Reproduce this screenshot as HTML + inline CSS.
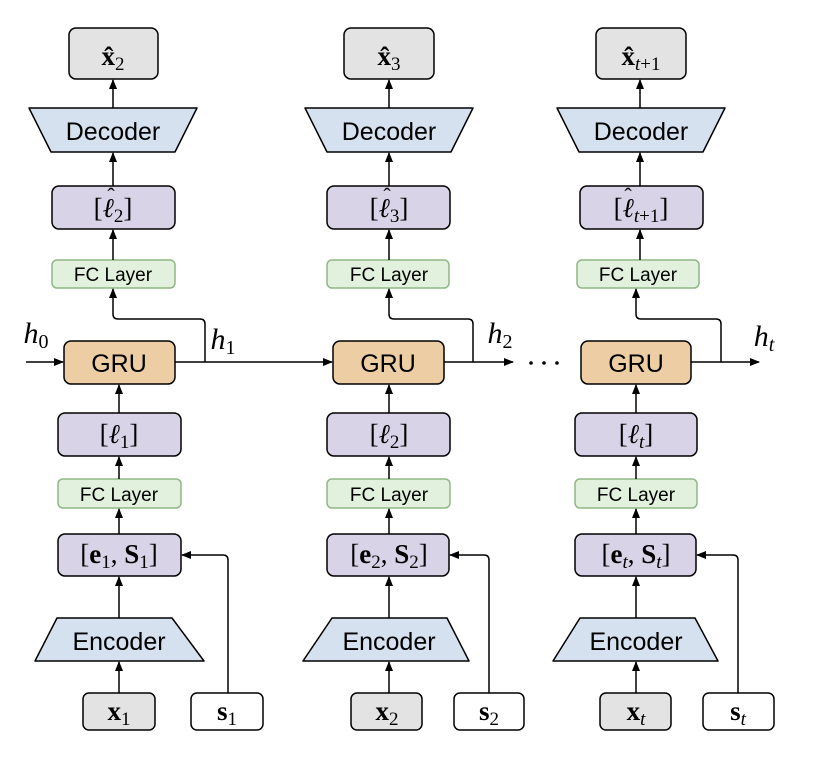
<!DOCTYPE html>
<html><head><meta charset="utf-8"><style>
body{margin:0;background:#fff}
svg{display:block}
.s{font-family:"Liberation Sans",sans-serif}
.m{font-family:"Liberation Serif",serif}
</style></head><body>
<svg width="831" height="768" viewBox="0 0 831 768" xmlns="http://www.w3.org/2000/svg">
<defs>
<marker id="a" markerWidth="10" markerHeight="10" refX="9" refY="4" orient="auto" markerUnits="userSpaceOnUse">
<path d="M0,0 L10,4 L0,8 Z" fill="#000"/></marker>
</defs>
<g stroke="#000" stroke-width="1.5" fill="none">
<rect x="69" y="28" width="89" height="51" rx="7" fill="#e3e3e3"/>
<path d="M29,108 L197,108 L175,152 L51,152 Z" fill="#d5e1ee" stroke-linejoin="round"/>
<rect x="52" y="186" width="123" height="43" rx="7" fill="#d8d3e6"/>
<rect x="52" y="260" width="123" height="28" rx="5" fill="#e2f1dd" stroke="#8fb884"/>
<rect x="344" y="28" width="90" height="51" rx="7" fill="#e3e3e3"/>
<path d="M305,108 L473,108 L451,152 L327,152 Z" fill="#d5e1ee" stroke-linejoin="round"/>
<rect x="327" y="186" width="123" height="43" rx="7" fill="#d8d3e6"/>
<rect x="327" y="260" width="122" height="28" rx="5" fill="#e2f1dd" stroke="#8fb884"/>
<rect x="596" y="28" width="90" height="51" rx="7" fill="#e3e3e3"/>
<path d="M557,108 L725,108 L703,152 L579,152 Z" fill="#d5e1ee" stroke-linejoin="round"/>
<rect x="580" y="186" width="123" height="43" rx="7" fill="#d8d3e6"/>
<rect x="577" y="260" width="122" height="28" rx="5" fill="#e2f1dd" stroke="#8fb884"/>
<rect x="64" y="341" width="111" height="43" rx="7" fill="#edcda4"/>
<rect x="333" y="341" width="111" height="43" rx="7" fill="#edcda4"/>
<rect x="581" y="341" width="110" height="43" rx="7" fill="#edcda4"/>
<rect x="58" y="413" width="123" height="43" rx="7" fill="#d8d3e6"/>
<rect x="58" y="479" width="123" height="29" rx="5" fill="#e2f1dd" stroke="#8fb884"/>
<rect x="58" y="534" width="123" height="42" rx="7" fill="#d8d3e6"/>
<path d="M57,618 L172,618 L204,661 L35,661 Z" fill="#d5e1ee" stroke-linejoin="round"/>
<rect x="83" y="693" width="72" height="37" rx="6" fill="#e3e3e3"/>
<rect x="191" y="693" width="72" height="37" rx="6" fill="#fff"/>
<rect x="327" y="413" width="123" height="43" rx="7" fill="#d8d3e6"/>
<rect x="327" y="479" width="123" height="29" rx="5" fill="#e2f1dd" stroke="#8fb884"/>
<rect x="327" y="534" width="122" height="42" rx="7" fill="#d8d3e6"/>
<path d="M332,618 L447,618 L469,661 L303,661 Z" fill="#d5e1ee" stroke-linejoin="round"/>
<rect x="351" y="693" width="71" height="37" rx="6" fill="#e3e3e3"/>
<rect x="454" y="693" width="70" height="37" rx="6" fill="#fff"/>
<rect x="575" y="413" width="122" height="43" rx="7" fill="#d8d3e6"/>
<rect x="575" y="479" width="122" height="29" rx="5" fill="#e2f1dd" stroke="#8fb884"/>
<rect x="575" y="534" width="121" height="42" rx="7" fill="#d8d3e6"/>
<path d="M580,618 L695,618 L718,661 L553,661 Z" fill="#d5e1ee" stroke-linejoin="round"/>
<rect x="600" y="693" width="71" height="37" rx="6" fill="#e3e3e3"/>
<rect x="703" y="693" width="71" height="37" rx="6" fill="#fff"/>
</g>

<g stroke="#000" stroke-width="1.5" fill="none" marker-end="url(#a)">
<line x1="113" y1="108" x2="113" y2="80"/>
<line x1="113" y1="186" x2="113" y2="153"/>
<line x1="113" y1="260" x2="113" y2="230"/>
<path d="M205,362 L205,324 Q205,319 200,319 L118,319 Q113,319 113,314 L113,289"/>
<line x1="119" y1="413" x2="119" y2="385"/>
<line x1="119" y1="479" x2="119" y2="457"/>
<line x1="119" y1="534" x2="119" y2="509"/>
<line x1="119" y1="618" x2="119" y2="577"/>
<line x1="119" y1="693" x2="119" y2="662"/>
<path d="M228,693 L228,560 Q228,555 223,555 L182,555"/>
<line x1="389" y1="108" x2="389" y2="80"/>
<line x1="389" y1="186" x2="389" y2="153"/>
<line x1="389" y1="260" x2="389" y2="230"/>
<path d="M473,362 L473,324 Q473,319 468,319 L394,319 Q389,319 389,314 L389,289"/>
<line x1="389" y1="413" x2="389" y2="385"/>
<line x1="389" y1="479" x2="389" y2="457"/>
<line x1="389" y1="534" x2="389" y2="509"/>
<line x1="389" y1="618" x2="389" y2="577"/>
<line x1="389" y1="693" x2="389" y2="662"/>
<path d="M489,693 L489,560 Q489,555 484,555 L450,555"/>
<line x1="640" y1="108" x2="640" y2="80"/>
<line x1="640" y1="186" x2="640" y2="153"/>
<line x1="640" y1="260" x2="640" y2="230"/>
<path d="M721,362 L721,324 Q721,319 716,319 L641,319 Q636,319 636,314 L636,289"/>
<line x1="636" y1="413" x2="636" y2="385"/>
<line x1="636" y1="479" x2="636" y2="457"/>
<line x1="636" y1="534" x2="636" y2="509"/>
<line x1="636" y1="618" x2="636" y2="577"/>
<line x1="636" y1="693" x2="636" y2="662"/>
<path d="M738,693 L738,560 Q738,555 733,555 L697,555"/>
<line x1="26" y1="362" x2="63" y2="362"/>
<line x1="175" y1="362" x2="332" y2="362"/>
<line x1="444" y1="362" x2="513" y2="362"/>
<line x1="691" y1="362" x2="759" y2="362"/>
</g>
<g fill="#000">
<circle cx="531" cy="363" r="1.8"/><circle cx="544" cy="363" r="1.8"/><circle cx="557" cy="363" r="1.8"/>
</g>

<g text-anchor="middle" fill="#000">
<g class="s" font-size="25">
<text x="113" y="140">Decoder</text><text x="389" y="140">Decoder</text><text x="641" y="140">Decoder</text>
<text x="119" y="372">GRU</text><text x="388" y="372">GRU</text><text x="636" y="372">GRU</text>
<text x="119" y="650">Encoder</text><text x="389" y="650">Encoder</text><text x="636" y="650">Encoder</text>
</g>
<g class="s" font-size="19">
<text x="113" y="281">FC Layer</text><text x="389" y="281">FC Layer</text><text x="638" y="281">FC Layer</text>
<text x="119" y="501">FC Layer</text><text x="389" y="501">FC Layer</text><text x="636" y="501">FC Layer</text>
</g>
<g class="m" font-size="27">
<text x="113" y="65"><tspan font-weight="bold">x̂</tspan><tspan font-size="19" dy="5">2</tspan></text>
<text x="389" y="65"><tspan font-weight="bold">x̂</tspan><tspan font-size="19" dy="5">3</tspan></text>
<text x="641" y="65"><tspan font-weight="bold">x̂</tspan><tspan font-size="19" dy="5" font-style="italic">t</tspan><tspan font-size="19">+1</tspan></text>
<text x="113" y="217">[<tspan font-style="italic">ℓ</tspan><tspan font-size="19" dy="5">2</tspan><tspan dy="-5">]</tspan></text>
<text x="389" y="217">[<tspan font-style="italic">ℓ</tspan><tspan font-size="19" dy="5">3</tspan><tspan dy="-5">]</tspan></text>
<text x="641" y="217">[<tspan font-style="italic">ℓ</tspan><tspan font-size="19" dy="5" font-style="italic">t</tspan><tspan font-size="19">+1</tspan><tspan dy="-5">]</tspan></text>
<text x="119" y="443">[<tspan font-style="italic">ℓ</tspan><tspan font-size="19" dy="5">1</tspan><tspan dy="-5">]</tspan></text>
<text x="389" y="443">[<tspan font-style="italic">ℓ</tspan><tspan font-size="19" dy="5">2</tspan><tspan dy="-5">]</tspan></text>
<text x="636" y="443">[<tspan font-style="italic">ℓ</tspan><tspan font-size="19" dy="5" font-style="italic">t</tspan><tspan dy="-5">]</tspan></text>
<text x="119" y="563">[<tspan font-weight="bold">e</tspan><tspan font-size="19" dy="5">1</tspan><tspan dy="-5">, </tspan><tspan font-weight="bold">S</tspan><tspan font-size="19" dy="5">1</tspan><tspan dy="-5">]</tspan></text>
<text x="389" y="563">[<tspan font-weight="bold">e</tspan><tspan font-size="19" dy="5">2</tspan><tspan dy="-5">, </tspan><tspan font-weight="bold">S</tspan><tspan font-size="19" dy="5">2</tspan><tspan dy="-5">]</tspan></text>
<text x="636" y="563">[<tspan font-weight="bold">e</tspan><tspan font-size="19" dy="5" font-style="italic">t</tspan><tspan dy="-5">, </tspan><tspan font-weight="bold">S</tspan><tspan font-size="19" dy="5" font-style="italic">t</tspan><tspan dy="-5">]</tspan></text>
<text x="119" y="720"><tspan font-weight="bold">x</tspan><tspan font-size="19" dy="5">1</tspan></text>
<text x="227" y="720"><tspan font-weight="bold">s</tspan><tspan font-size="19" dy="5">1</tspan></text>
<text x="387" y="720"><tspan font-weight="bold">x</tspan><tspan font-size="19" dy="5">2</tspan></text>
<text x="489" y="720"><tspan font-weight="bold">s</tspan><tspan font-size="19" dy="5">2</tspan></text>
<text x="636" y="720"><tspan font-weight="bold">x</tspan><tspan font-size="19" dy="5" font-style="italic">t</tspan></text>
<text x="738" y="720"><tspan font-weight="bold">s</tspan><tspan font-size="19" dy="5" font-style="italic">t</tspan></text>
</g>
<g class="m" font-size="22">
<text x="111" y="203">ˆ</text>
<text x="387" y="203">ˆ</text>
<text x="628" y="203">ˆ</text>
</g>
<g class="m" font-size="30" font-style="italic">
<text x="36" y="343">h<tspan font-size="20" dy="5" font-style="normal">0</tspan></text>
<text x="223" y="349">h<tspan font-size="20" dy="5" font-style="normal">1</tspan></text>
<text x="500" y="343">h<tspan font-size="20" dy="5" font-style="normal">2</tspan></text>
<text x="764" y="346">h<tspan font-size="20" dy="5">t</tspan></text>
</g>
</g>
</svg>
</body></html>
